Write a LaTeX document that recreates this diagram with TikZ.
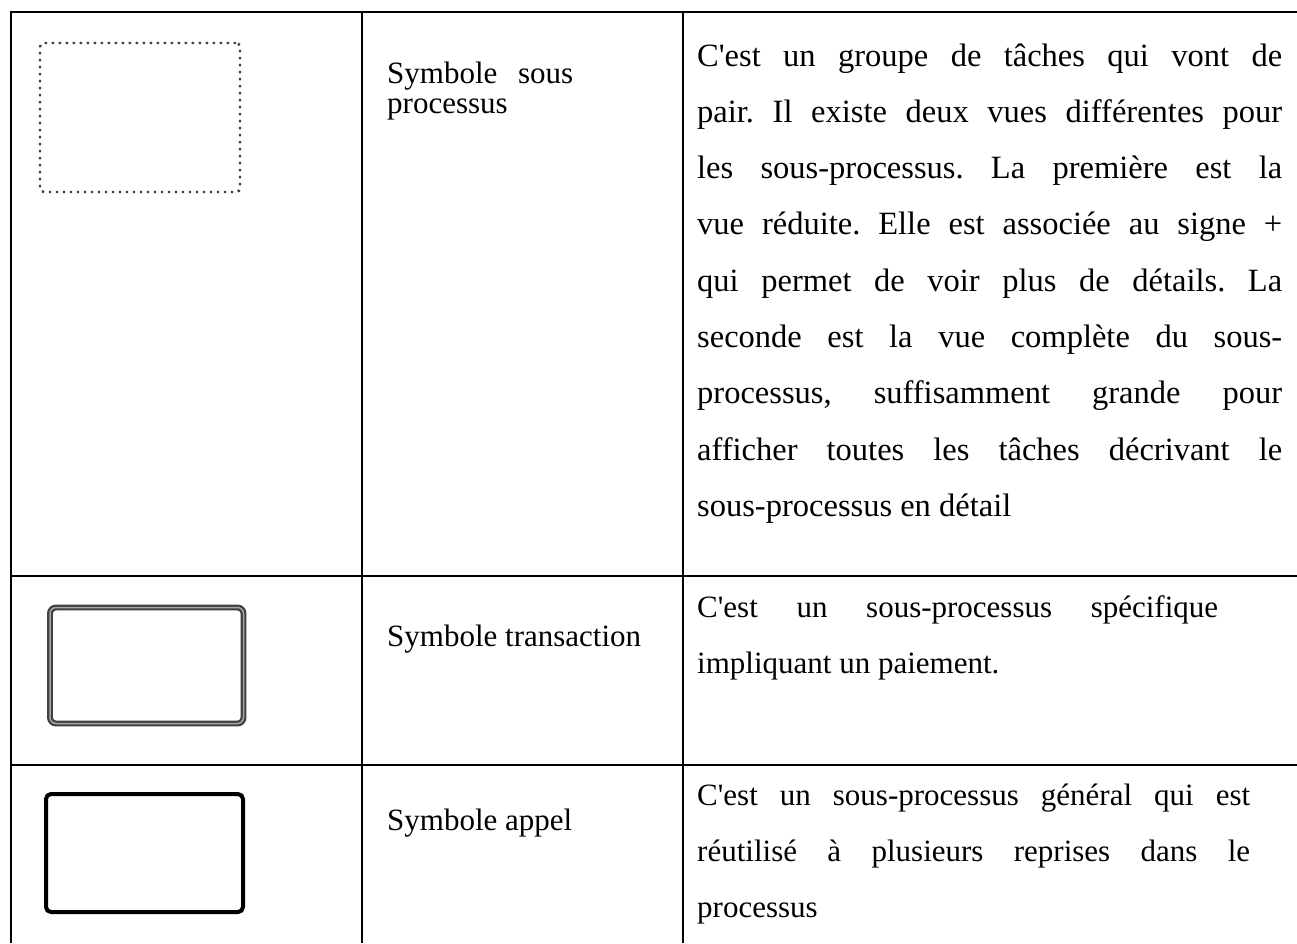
\documentclass[tikz,border=0pt]{standalone}
\usepackage{fontspec}
\newfontfamily\tnr{Liberation Serif}
\frenchspacing
\begin{document}
\frenchspacing
\begin{tikzpicture}[x=1pt,y=-1pt,
  grid/.style={line width=2.5pt,black},
  lbl/.style={anchor=base west,inner sep=0pt,font=\tnr\fontsize{31}{30}\selectfont},
  desc/.style={anchor=base west,inner sep=0pt,font=\tnr\fontsize{31}{56}\selectfont},
  descpal/.style={anchor=base west,inner sep=0pt,font=\tnr\fontsize{32.5}{56.3}\selectfont},
  subsym/.style={draw=black!75,line width=2.4pt,dash pattern=on 2.4pt off 4.6pt,rounded corners=4pt,inner sep=0pt,minimum width=200pt,minimum height=149pt},
  transsym/.style={draw=black!75,line width=2.2pt,double=black!35,double distance=1.5pt,rounded corners=6pt,inner sep=0pt,minimum width=193.5pt,minimum height=116pt},
  callsym/.style={draw=black,line width=4pt,rounded corners=5pt,inner sep=0pt,minimum width=197pt,minimum height=118pt}]
\useasboundingbox (0,0) rectangle (1297,943);
\fill[white] (0,0) rectangle (1297,943);
% table rules
\draw[grid] (11,12) -- (1297,12);
\draw[grid] (11,576) -- (1297,576);
\draw[grid] (11,765) -- (1297,765);
\draw[grid] (11,10.75) -- (11,943);
\draw[grid] (362,10.75) -- (362,943);
\draw[grid] (683,10.75) -- (683,943);
% symbols
\node[subsym] (sym1) at (140,117.5) {};
\node[transsym] (sym2) at (146.75,665.5) {};
\node[callsym] (sym3) at (144.5,853) {};
% names
\node[lbl] (name1) at (387,83) {\parbox[t]{300pt}{\makebox[186pt][s]{Symbole sous}\\processus}};
\node[lbl] (name2) at (387,646) {Symbole transaction};
\node[lbl] (name3) at (387,830) {Symbole appel};
% descriptions
\node[descpal] (desc1) at (697,66) {\parbox[t]{585pt}{%
\makebox[585pt][s]{C'est un groupe de tâches qui vont de}\\
\makebox[585pt][s]{pair. Il existe deux vues différentes pour}\\
\makebox[585pt][s]{les sous-processus. La première est la}\\
\makebox[585pt][s]{vue réduite. Elle est associée au signe +}\\
\makebox[585pt][s]{qui permet de voir plus de détails. La}\\
\makebox[585pt][s]{seconde est la vue complète du sous-}\\
\makebox[585pt][s]{processus, suffisamment grande pour}\\
\makebox[585pt][s]{afficher toutes les tâches décrivant le}\\
sous-processus en détail}};
\node[desc] (desc2) at (697,617) {\parbox[t]{585pt}{%
\makebox[521pt][s]{C'est un sous-processus spécifique}\\
impliquant un paiement.}};
\node[desc] (desc3) at (697,805) {\parbox[t]{585pt}{%
\makebox[553pt][s]{C'est un sous-processus général qui est}\\
\makebox[553pt][s]{réutilisé à plusieurs reprises dans le}\\
processus}};
\end{tikzpicture}
\end{document}
